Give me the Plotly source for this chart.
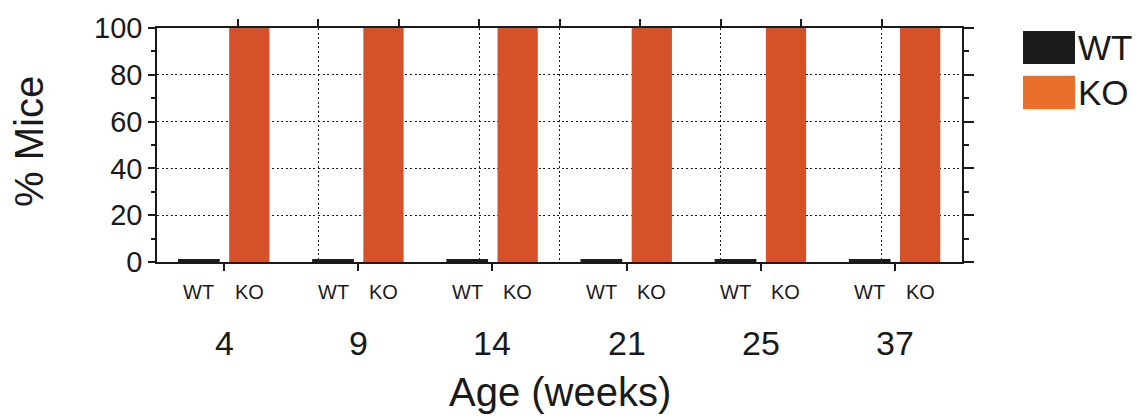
import plotly.graph_objects as go

# Age groups (weeks) and % of mice per genotype
ages = ["4", "9", "14", "21", "25", "37"]
wt_pct = [1, 1, 1, 1, 1, 1]
ko_pct = [100, 100, 100, 100, 100, 100]
genotypes = ["WT", "KO"]
y_ticks = [0, 20, 40, 60, 80, 100]

FONT = "Liberation Sans, Arial, Helvetica, sans-serif"
WT_COLOR = "#1e1e1e"
KO_COLOR = "#d4512a"
KO_SWATCH = "#e8702c"
INK = "#1a1a1a"

group_pos = list(range(len(ages)))
offset = 0.188
bar_w = 0.30

fig = go.Figure()

fig.add_trace(go.Bar(
    x=[g - offset for g in group_pos], y=wt_pct, width=bar_w,
    marker=dict(color=WT_COLOR, line=dict(color=WT_COLOR, width=1.5)),
    name="WT", showlegend=False,
))
fig.add_trace(go.Bar(
    x=[g + offset for g in group_pos], y=ko_pct, width=bar_w,
    marker=dict(color=KO_COLOR, line=dict(width=0)),
    name="KO", showlegend=False,
))
# companion trace that brings up the top / right frame axes
fig.add_trace(go.Scatter(
    x=[None], y=[None], xaxis="x2", yaxis="y2",
    mode="markers", showlegend=False, hoverinfo="skip",
))

annotations = []
# genotype labels under each bar
for g in group_pos:
    for name, dx in zip(genotypes, (-offset, offset)):
        annotations.append(dict(
            x=g + dx, y=0, xref="x", yref="paper", text=name,
            showarrow=False, yanchor="middle", yshift=-30,
            font=dict(family=FONT, size=20, color=INK),
        ))
# age labels under each group
for g, lab in zip(group_pos, ages):
    annotations.append(dict(
        x=g, y=0, xref="x", yref="paper", text=lab,
        showarrow=False, yanchor="middle", yshift=-81,
        font=dict(family=FONT, size=34, color=INK),
    ))
# axis titles
annotations.append(dict(
    x=0.5, y=0, xref="paper", yref="paper", text="Age (weeks)",
    showarrow=False, yanchor="middle", yshift=-130,
    font=dict(family=FONT, size=40, color=INK),
))
annotations.append(dict(
    x=0, y=0.5, xref="paper", yref="paper", text="% Mice",
    showarrow=False, textangle=-90, xanchor="center", yanchor="middle",
    xshift=-128, yshift=3,
    font=dict(family=FONT, size=40, color=INK),
))

# legend drawn as swatches + labels to the right of the plot
W, H = 805.0, 240.0
L0, B0 = 157.0, 262.0


def px_x(px):
    return (px - L0) / W


def px_y(py):
    return (B0 - py) / H


shapes = []
for (y0, y1, col), lab in zip([(25, 59, "#1c1c1c"), (71, 105, KO_SWATCH)], genotypes):
    shapes.append(dict(
        type="rect", xref="paper", yref="paper",
        x0=px_x(1023), x1=px_x(1075), y0=px_y(y1), y1=px_y(y0),
        fillcolor=col, line=dict(width=0),
    ))
    annotations.append(dict(
        x=px_x(1076), y=px_y((y0 + y1) / 2), xref="paper", yref="paper",
        text=lab, showarrow=False, xanchor="left", yanchor="middle",
        font=dict(family=FONT, size=35, color=INK),
    ))

# top and bottom frame lines run a little past the right axis
for yy in (0, 1):
    shapes.append(dict(
        type="line", xref="paper", yref="paper",
        x0=1, x1=px_x(972), y0=yy, y1=yy,
        line=dict(color=INK, width=1.5),
    ))

grid_dash = "2px,2.6px"

fig.update_layout(
    width=1136, height=417,
    margin=dict(l=157, r=174, t=22, b=155),
    paper_bgcolor="white", plot_bgcolor="white",
    barmode="overlay",
    font=dict(family=FONT, color=INK),
    xaxis=dict(
        range=[-0.5, len(ages) - 0.5],
        tickvals=group_pos, showticklabels=False,
        ticks="outside", ticklen=7, tickwidth=1.5, tickcolor=INK,
        showline=True, linecolor=INK, linewidth=1.5,
        showgrid=False, zeroline=False, fixedrange=True,
    ),
    xaxis2=dict(
        overlaying="x", side="top", anchor="y",
        range=[0, 10], tickvals=list(range(1, 10)), showticklabels=False,
        ticks="outside", ticklen=7, tickwidth=1.5, tickcolor=INK,
        showline=True, linecolor=INK, linewidth=1.5,
        showgrid=True, gridcolor=INK, gridwidth=1.3, griddash=grid_dash,
        zeroline=False,
    ),
    yaxis=dict(
        range=[0, 100], tickvals=y_ticks,
        ticks="outside", ticklen=7, tickwidth=1.5, tickcolor=INK,
        minor=dict(dtick=10, ticks="outside", ticklen=4, tickwidth=1.5, tickcolor=INK, showgrid=False),
        showline=True, linecolor=INK, linewidth=1.5,
        showgrid=True, gridcolor=INK, gridwidth=1.3, griddash=grid_dash,
        zeroline=False,
        tickfont=dict(family=FONT, size=29, color=INK),
    ),
    yaxis2=dict(
        overlaying="y", side="right", anchor="x",
        range=[0, 100], tickvals=y_ticks, showticklabels=False,
        ticks="outside", ticklen=10, tickwidth=1.5, tickcolor=INK,
        minor=dict(dtick=10, ticks="outside", ticklen=5, tickwidth=1.5, tickcolor=INK, showgrid=False),
        showline=True, linecolor=INK, linewidth=1.5,
        showgrid=False, zeroline=False,
    ),
    annotations=annotations,
    shapes=shapes,
    showlegend=False,
)

fig.write_html("out.html")
